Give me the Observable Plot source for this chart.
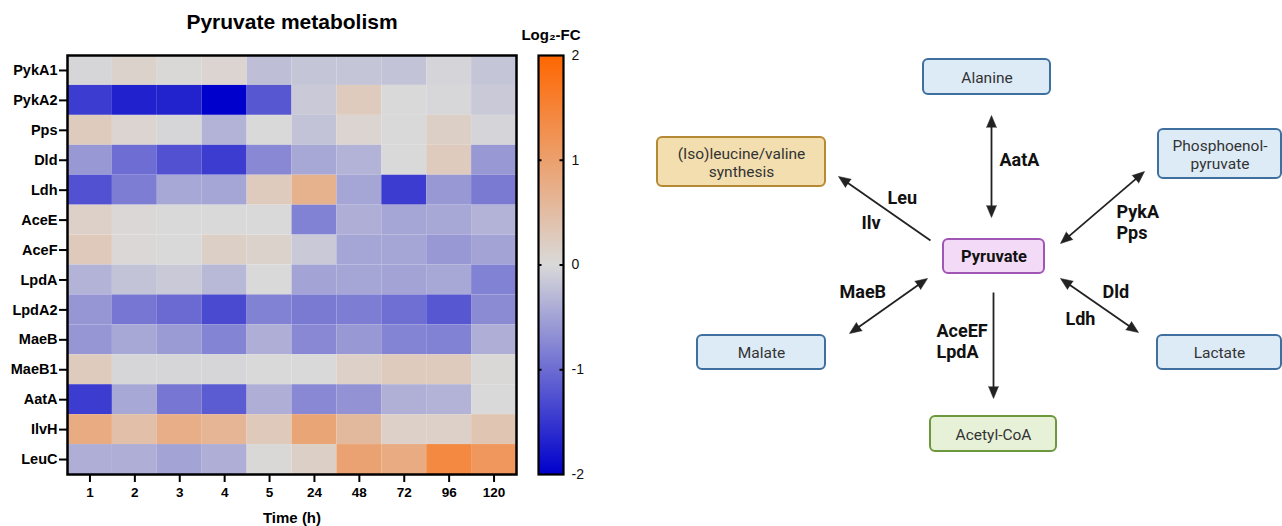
<!DOCTYPE html>
<html>
<head>
<meta charset="utf-8">
<script src="https://cdn.jsdelivr.net/npm/d3@7"></script>
<script src="https://cdn.jsdelivr.net/npm/@observablehq/plot@0.6"></script>
<style>
  body { margin: 0; background: #fff; }
  #root { position: relative; width: 1282px; height: 526px; overflow: hidden; background: #fff; }
  #root svg { position: absolute; top: 0; }
</style>
</head>
<body>
<div id="root"></div>
<script>
// ---------- Heatmap data ----------
const title = "Pyruvate metabolism";
const xLabel = "Time (h)";
const times = ["1", "2", "3", "4", "5", "24", "48", "72", "96", "120"];
const genes = ["PykA1", "PykA2", "Pps", "Dld", "Ldh", "AceE", "AceF", "LpdA", "LpdA2", "MaeB", "MaeB1", "AatA", "IlvH", "LeuC"];
// log2 fold change, one row per gene, one column per time point
const log2fc = [
  [-0.03, 0.12, 0.02, 0.08, -0.25, -0.18, -0.18, -0.2, -0.05, -0.18],   // PykA1
  [-1.45, -1.7, -1.68, -2.0, -1.2, -0.15, 0.25, 0.0, -0.02, -0.15],     // PykA2
  [0.25, 0.08, -0.03, -0.35, 0.0, -0.2, 0.08, 0.0, 0.18, -0.04],        // Pps
  [-0.6, -1.0, -1.25, -1.45, -0.75, -0.45, -0.35, 0.0, 0.25, -0.6],     // Dld
  [-1.25, -0.85, -0.45, -0.48, 0.25, 0.7, -0.48, -1.45, -0.6, -0.88],   // Ldh
  [0.15, 0.03, 0.0, 0.0, 0.0, -0.8, -0.4, -0.48, -0.45, -0.35],         // AceE
  [0.28, 0.03, 0.0, 0.18, 0.12, -0.15, -0.48, -0.48, -0.6, -0.5],       // AceF
  [-0.35, -0.2, -0.15, -0.3, 0.0, -0.5, -0.48, -0.5, -0.45, -0.8],      // LpdA
  [-0.62, -0.9, -1.02, -1.32, -0.8, -0.88, -0.85, -0.98, -1.2, -0.72],  // LpdA2
  [-0.62, -0.45, -0.58, -0.78, -0.4, -0.75, -0.6, -0.78, -0.8, -0.4],   // MaeB
  [0.25, -0.03, -0.03, -0.03, 0.0, 0.0, 0.15, 0.25, 0.25, 0.02],        // MaeB1
  [-1.45, -0.45, -0.9, -1.15, -0.4, -0.75, -0.65, -0.38, -0.35, 0.0],   // AatA
  [0.8, 0.45, 0.75, 0.62, 0.28, 0.9, 0.55, 0.15, 0.15, 0.35],           // IlvH
  [-0.4, -0.4, -0.5, -0.4, 0.02, 0.18, 0.95, 0.8, 1.4, 1.15]            // LeuC
];

// ---------- Legend ----------
const legendTitle = "Log\u2082-FC";
const legendTicks = [2, 1, 0, -1, -2];
const legendTickLabels = ["2", "1", "0", "-1", "-2"];
const colorStops = [-2, 0, 2];
const colorRange = ["#0000CC", "#D9D9D9", "#FF6600"];

// ---------- Pathway diagram ----------
const nodeNames = ["Alanine", "(Iso)leucine/valine\nsynthesis", "Phosphoenol-\npyruvate", "Pyruvate", "Malate", "Lactate", "Acetyl-CoA"];
const nodeGroups = ["metabolite", "pathway", "metabolite", "hub", "metabolite", "metabolite", "product"];
const arrowFrom = ["Pyruvate", "Pyruvate", "Pyruvate", "Pyruvate", "Pyruvate", "Pyruvate"];
const arrowTo = ["Alanine", "(Iso)leucine/valine synthesis", "Phosphoenolpyruvate", "Malate", "Lactate", "Acetyl-CoA"];
const arrowReversible = [true, false, true, true, true, false];
const enzymeLabels = ["AatA", "Leu", "Ilv", "PykA", "Pps", "MaeB", "Dld", "Ldh", "AceEF", "LpdA"];

// diagram layout (page pixel coordinates)
const nodeBoxes = [[923, 1050, 59, 94], [657, 825, 137, 186], [1158, 1281, 129, 178], [943, 1044, 239, 273], [697, 825, 335, 369], [1157, 1281, 335, 369], [930, 1056, 416, 451]];
const arrowLayout = [[991, 217, 991, 115], [930, 240, 838, 176], [1060, 243, 1144, 171], [927, 278, 849, 333], [1060, 278, 1138, 332], [993, 292, 993, 398]];
const enzymeLayout = [[999, 160], [887, 198], [861, 223], [1116, 212], [1116, 233], [839, 292], [1102, 292], [1065, 319], [936, 331], [936, 352]];
const groupStyle = {
  metabolite: {fill: "#DDEBF7", stroke: "#3E6F9E"},
  pathway: {fill: "#F2DEAE", stroke: "#B68A35"},
  hub: {fill: "#F3DAF6", stroke: "#9F57B3"},
  product: {fill: "#E6F1D8", stroke: "#6A983B"}
};

// ---------- Build ----------
const root = document.getElementById("root");
const colorOpts = {type: "linear", domain: colorStops, range: colorRange, interpolate: "rgb"};
const cells = genes.flatMap((g, i) => times.map((t, j) => ({gene: g, time: t, value: log2fc[i][j]})));
const sansBold = "'Liberation Sans', Arial, Helvetica, sans-serif";

const heat = Plot.plot({
  width: 530, height: 526,
  marginLeft: 67, marginRight: 14, marginTop: 55, marginBottom: 52,
  style: {background: "transparent", fontFamily: sansBold, color: "#000"},
  x: {domain: times, padding: 0, round: false},
  y: {domain: genes, padding: 0, round: false},
  color: colorOpts,
  marks: [
    Plot.cell(cells, {x: "time", y: "gene", fill: "value"}),
    Plot.frame({stroke: "#000", strokeWidth: 2.5}),
    Plot.axisX({tickSize: 8, tickPadding: 5, fontSize: 13.5, fontWeight: "bold", strokeWidth: 2, label: null}),
    Plot.axisY({tickSize: 8, tickPadding: 2, fontSize: 14.5, fontWeight: "bold", strokeWidth: 2, label: null}),
    Plot.text([xLabel], {frameAnchor: "bottom", lineAnchor: "middle", dy: 44, text: d => d, fontSize: 15, fontWeight: "bold", fill: "#000"}),
    Plot.text([title], {frameAnchor: "top", lineAnchor: "middle", dy: -33, text: d => d, fontSize: 21, fontWeight: "bold", fill: "#000"})
  ]
});
heat.style.left = "0px";
root.appendChild(heat);

const legend = Plot.plot({
  width: 80, height: 526,
  marginLeft: 18, marginRight: 37, marginTop: 55, marginBottom: 52,
  style: {background: "transparent", fontFamily: sansBold, color: "#000"},
  x: {domain: [0, 1], axis: null},
  y: {domain: [-2, 2], axis: null},
  marks: [
    Plot.rect([0], {x1: 0, x2: 1, y1: -2, y2: 2, fill: "url(#lfcGradient)"}),
    Plot.ruleY(legendTicks.filter(v => Math.abs(v) < 2), {x1: 0, x2: 0.14, stroke: "#000", strokeWidth: 2}),
    Plot.ruleY(legendTicks.filter(v => Math.abs(v) < 2), {x1: 0.86, x2: 1, stroke: "#000", strokeWidth: 2}),
    Plot.frame({stroke: "#000", strokeWidth: 2.2}),
    Plot.text(legendTicks, {x: 1, y: d => d, text: (d, i) => legendTickLabels[i], dx: 8, textAnchor: "start", fontSize: 14, fill: "#111"}),
    Plot.text([legendTitle], {frameAnchor: "top", lineAnchor: "middle", dy: -20, text: d => d, fontSize: 15, fontWeight: "bold", fill: "#000"})
  ]
});
legend.style.left = "520px";
const grad = d3.select(legend).insert("defs", ":first-child")
  .append("linearGradient").attr("id", "lfcGradient")
  .attr("x1", 0).attr("y1", 1).attr("x2", 0).attr("y2", 0);
colorStops.forEach((v, i) => {
  grad.append("stop").attr("offset", (v - colorStops[0]) / (colorStops[colorStops.length - 1] - colorStops[0])).attr("stop-color", colorRange[i]);
});
root.appendChild(legend);

// diagram data tables
const nodeRows = nodeNames.map((n, i) => ({
  name: n, group: nodeGroups[i],
  x1: nodeBoxes[i][0], x2: nodeBoxes[i][1], y1: nodeBoxes[i][2], y2: nodeBoxes[i][3],
  fill: groupStyle[nodeGroups[i]].fill, stroke: groupStyle[nodeGroups[i]].stroke
}));
const segs = [];
const heads = [];
arrowTo.forEach((t, i) => {
  const [x1, y1, x2, y2] = arrowLayout[i];
  const L = Math.hypot(x2 - x1, y2 - y1), ux = (x2 - x1) / L, uy = (y2 - y1) / L;
  const s = 4;
  segs.push({
    from: arrowFrom[i], to: t,
    x1: arrowReversible[i] ? x1 + ux * s : x1, y1: arrowReversible[i] ? y1 + uy * s : y1,
    x2: x2 - ux * s, y2: y2 - uy * s
  });
  heads.push({x: x2, y: y2, rotate: Math.atan2(ux, -uy) * 180 / Math.PI});
  if (arrowReversible[i]) heads.push({x: x1, y: y1, rotate: Math.atan2(-ux, uy) * 180 / Math.PI});
});
const enzymeRows = enzymeLabels.map((e, i) => ({label: e, x: enzymeLayout[i][0], y: enzymeLayout[i][1]}));

const diagram = Plot.plot({
  width: 662, height: 526,
  marginLeft: 0, marginRight: 0, marginTop: 0, marginBottom: 0,
  x: {domain: [620, 1282], range: [0, 662], axis: null},
  y: {domain: [0, 526], range: [0, 526], axis: null},
  style: {background: "transparent", fontFamily: "Roboto, 'Liberation Sans', sans-serif"},
  marks: [
    Plot.link(segs, {x1: "x1", y1: "y1", x2: "x2", y2: "y2", stroke: "#222", strokeWidth: 1.8}),
    Plot.vector(heads, {x: "x", y: "y", rotate: "rotate", length: 12, r: 5, shape: "spike", anchor: "end", fill: "#222", stroke: "#222", strokeWidth: 0.5}),
    Plot.rect(nodeRows, {x1: "x1", x2: "x2", y1: "y1", y2: "y2", rx: 5, fill: "fill", stroke: "stroke", strokeWidth: 2}),
    Plot.text(nodeRows.filter(d => d.group !== "hub"), {x: d => (d.x1 + d.x2) / 2, y: d => (d.y1 + d.y2) / 2, text: "name", fontSize: 15.5, lineHeight: 1.15, fill: "#333"}),
    Plot.text(nodeRows.filter(d => d.group === "hub"), {x: d => (d.x1 + d.x2) / 2, y: d => (d.y1 + d.y2) / 2, text: "name", fontSize: 16.5, fontWeight: "bold", fill: "#111"}),
    Plot.text(enzymeRows, {x: "x", y: "y", text: "label", textAnchor: "start", fontSize: 18, fontWeight: "bold", fill: "#111"})
  ]
});
diagram.style.left = "620px";
root.appendChild(diagram);
</script>
</body>
</html>
